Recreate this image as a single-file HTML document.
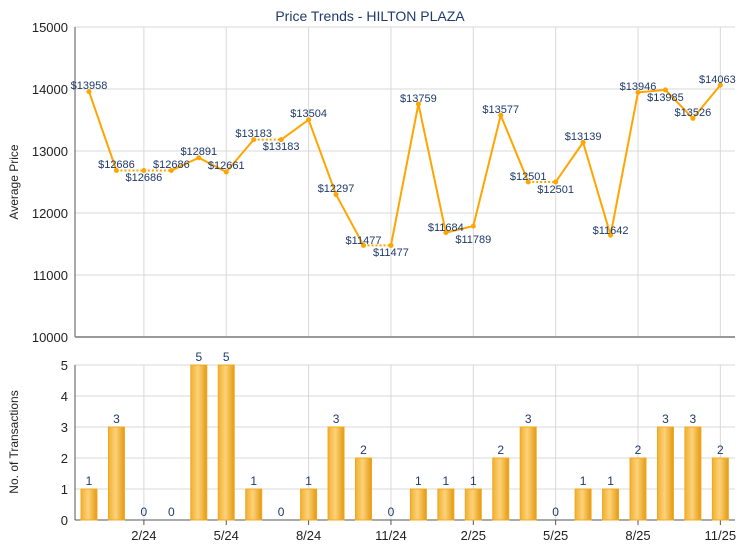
<!DOCTYPE html>
<html><head><meta charset="utf-8"><style>
body{margin:0;background:#fff}
svg text{font-family:"Liberation Sans",Arial,sans-serif}
</style></head><body>
<svg width="740" height="550" viewBox="0 0 740 550" xmlns="http://www.w3.org/2000/svg">
<rect width="740" height="550" fill="#fff"/>
<text x="370" y="21" font-size="14" fill="#1f3a6a" text-anchor="middle">Price Trends - HILTON PLAZA</text>
<g id="grid" stroke="#d8d8d8" stroke-width="1"></g>
<g id="main"></g>
</svg>
<script>
const NS="http://www.w3.org/2000/svg";
const svg=document.querySelector('svg');
function el(t,a,txt){const e=document.createElementNS(NS,t);for(const k in a)e.setAttribute(k,a[k]);if(txt!==undefined)e.textContent=txt;svg.appendChild(e);return e;}
const X=i=>89+27.45*i;
const L=75,R=735;
const YT=v=>337-(v-10000)*0.062;
const YB=v=>520-v*31;
// top grid
for(let v=10000;v<=15000;v+=1000){el('line',{x1:L,x2:R,y1:YT(v),y2:YT(v),stroke:'#d8d8d8'});el('text',{x:68,y:YT(v)+5,'font-size':13,'text-anchor':'end',fill:'#222'},v);}
for(let v=0;v<=5;v++){el('line',{x1:L,x2:R,y1:YB(v),y2:YB(v),stroke:'#d8d8d8'});el('text',{x:68,y:YB(v)+5,'font-size':13,'text-anchor':'end',fill:'#222'},v);}
const xl=['2/24','5/24','8/24','11/24','2/25','5/25','8/25','11/25'];
[2,5,8,11,14,17,20,23].forEach((i,k)=>{const x=X(i);
el('line',{x1:x,x2:x,y1:27,y2:337,stroke:'#d8d8d8'});
el('line',{x1:x,x2:x,y1:365,y2:520,stroke:'#d8d8d8'});
el('line',{x1:x,x2:x,y1:520,y2:525,stroke:'#555'});
el('text',{x:x,y:540,'font-size':13,'text-anchor':'middle',fill:'#222'},xl[k]);});
// axes
el('line',{x1:L,x2:L,y1:27,y2:337,stroke:'#555'});
el('line',{x1:L,x2:R,y1:337,y2:337,stroke:'#999','stroke-width':2});
el('line',{x1:L,x2:L,y1:365,y2:520,stroke:'#555'});
el('line',{x1:L,x2:R,y1:520,y2:520,stroke:'#555'});
el('text',{x:18,y:182,'font-size':12,'text-anchor':'middle',fill:'#222',transform:'rotate(-90 18 182)'},'Average Price');
el('text',{x:18,y:442,'font-size':12,'text-anchor':'middle',fill:'#222',transform:'rotate(-90 18 442)'},'No. of Transactions');
// bars
const defs=el('defs',{});
defs.innerHTML='<linearGradient id="g" x1="0" x2="1"><stop offset="0" stop-color="#f0b030"/><stop offset="0.45" stop-color="#fdd27a"/><stop offset="1" stop-color="#e49a10"/></linearGradient>';
const n=[1,3,0,0,5,5,1,0,1,3,2,0,1,1,1,2,3,0,1,1,2,3,3,2];
n.forEach((c,i)=>{const x=X(i);if(c>0)el('rect',{x:x-8,y:YB(c),width:16,height:c*31,fill:'url(#g)',stroke:'#f0a820','stroke-width':1});
el('text',{x:x,y:YB(c)-4,'font-size':12,'text-anchor':'middle',fill:'#1f3a6a'},c);});
// line
const v=[13958,12686,12686,12686,12891,12661,13183,13183,13504,12297,11477,11477,13759,11684,11789,13577,12501,12501,13139,11642,13946,13985,13526,14063];
for(let i=0;i<23;i++){const a={x1:X(i),y1:YT(v[i]),x2:X(i+1),y2:YT(v[i+1]),stroke:'#ffa500','stroke-width':2};if(n[i+1]==0)a['stroke-dasharray']='2,2';el('line',a);}
v.forEach((p,i)=>el('circle',{cx:X(i),cy:YT(p),r:2.5,fill:'#ffa500'}));
const ly=[85,164,177,164,151,165,133,146,113,188,240,252,98,227,239,109,176,189,136,230,86,97,112,79];
const lx=[0,0,0,0,0,0,0,0,0,0,0,0,0,0,0,0,0,0,0,0,0,0,0,-3];
v.forEach((p,i)=>el('text',{x:X(i)+lx[i],y:ly[i]+4,'font-size':11,'text-anchor':'middle',fill:'#1f3a6a'},'$'+p));
</script>
</body></html>
